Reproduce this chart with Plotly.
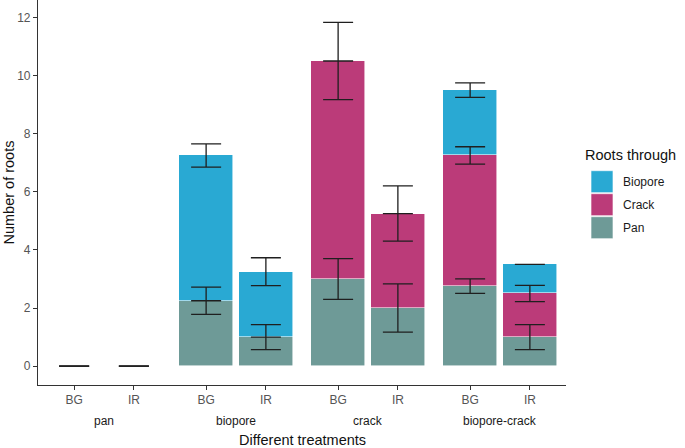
import numpy as np
import plotly.graph_objects as go

# ---------------- data ----------------
treatments = ["pan", "biopore", "crack", "biopore-crack"]
sites = ["BG", "IR"]
# one value per (treatment, site): pan-BG, pan-IR, biopore-BG, biopore-IR, crack-BG, crack-IR, bc-BG, bc-IR
pan_vals = [0, 0, 2.25, 1.0, 3.0, 2.0, 2.75, 1.0]
crack_vals = [0, 0, 0, 0, 7.5, 3.25, 4.5, 1.5]
biopore_vals = [0, 0, 5.0, 2.25, 0, 0, 2.25, 1.0]
pan_err = [0, 0, 0.47, 0.43, 0.7, 0.83, 0.25, 0.43]
crack_err = [0, 0, 0, 0, 1.33, 0.95, 0.3, 0.28]
biopore_err = [0, 0, 0.4, 0.48, 0, 0, 0.25, 0]
y_ticks = [0, 2, 4, 6, 8, 10, 12]

# ---------------- style ----------------
colors = {"Biopore": "#29A9D3", "Crack": "#BB3B79", "Pan": "#6E9A97"}
W_FIG, H_FIG = 685, 448
L, R, T, B = 38, 119, 0, 63
PW, PH = W_FIG - L - R, H_FIG - T - B
DODGE = 0.2264
BAR_W = 0.4075
FONT = "Liberation Sans, Arial, sans-serif"

n = len(treatments) * len(sites)
group_idx = np.repeat(np.arange(len(treatments)), len(sites))
site_off = np.tile(np.array([-DODGE, DODGE]), len(treatments))
xpos = group_idx + site_off
site_labels = [sites[i % len(sites)] for i in range(n)]

layers = [("Pan", pan_vals, pan_err), ("Crack", crack_vals, crack_err), ("Biopore", biopore_vals, biopore_err)]

fig = go.Figure()
for name, vals, _ in layers:
    fig.add_trace(go.Bar(
        x=xpos, y=vals, name=name, width=BAR_W,
        marker=dict(color=colors[name], line=dict(color="rgba(255,255,255,0.7)", width=0.8)),
        showlegend=False, hoverinfo="skip"))

cum = np.zeros(n)
for name, vals, err in layers:
    cum = cum + np.array(vals, dtype=float)
    fig.add_trace(go.Scatter(
        x=xpos, y=cum.copy(), mode="markers",
        marker=dict(size=1, color="rgba(0,0,0,0)"),
        error_y=dict(type="data", array=err, visible=True, color="#1f1f1f", thickness=1.3, width=15),
        showlegend=False, hoverinfo="skip"))


def px2x(px):
    return (px - L) / PW


def py2y(py):
    return (T + PH - py) / PH


annotations = []
for g, t in enumerate(treatments):
    annotations.append(dict(x=g, xref="x", y=0, yref="paper", yanchor="middle", yshift=-36,
                            text=t, showarrow=False, font=dict(family=FONT, size=12, color="#1a1a1a")))
annotations.append(dict(x=0.5 * (len(treatments) - 1), xref="x", y=0, yref="paper", yanchor="middle",
                        yshift=-54.5, text="Different treatments", showarrow=False,
                        font=dict(family=FONT, size=14.5, color="#111")))
annotations.append(dict(x=0, xref="paper", xshift=-30, y=0.5, yref="paper", textangle=-90,
                        text="Number of roots", showarrow=False, xanchor="center", yanchor="middle",
                        font=dict(family=FONT, size=14.5, color="#111")))

# manual legend (ggplot style keys)
annotations.append(dict(x=px2x(583), xref="paper", y=py2y(155), yref="paper", xanchor="left",
                        yanchor="middle", text="Roots through", showarrow=False,
                        font=dict(family=FONT, size=14.5, color="#111")))
shapes = []
legend_order = ["Biopore", "Crack", "Pan"]
for i, name in enumerate(legend_order):
    cy = 181.7 + 23 * i
    shapes.append(dict(type="rect", xref="paper", yref="paper",
                       x0=px2x(591), x1=px2x(613), y0=py2y(cy + 11), y1=py2y(cy - 11),
                       fillcolor=colors[name], line=dict(color="rgba(255,255,255,0.8)", width=0.8)))
    annotations.append(dict(x=px2x(621), xref="paper", y=py2y(cy), yref="paper", xanchor="left",
                            yanchor="middle", text=name, showarrow=False,
                            font=dict(family=FONT, size=12, color="#1a1a1a")))

fig.update_layout(
    width=W_FIG, height=H_FIG,
    margin=dict(l=L, r=R, t=T, b=B, pad=0),
    paper_bgcolor="white", plot_bgcolor="white",
    barmode="stack", bargap=0,
    showlegend=False,
    annotations=annotations, shapes=shapes,
    font=dict(family=FONT),
)
fig.update_xaxes(range=[-0.5, len(treatments) - 0.5], tickvals=xpos, ticktext=site_labels,
                 ticks="outside", ticklen=4, tickcolor="#333", tickwidth=1,
                 showline=True, linecolor="#333", linewidth=1.1, showgrid=False, zeroline=False,
                 tickfont=dict(family=FONT, size=12, color="#555"))
fig.update_yaxes(range=[-0.65, 12.6], tickvals=y_ticks, ticks="outside", ticklen=4, tickcolor="#333",
                 tickwidth=1, showline=True, linecolor="#333", linewidth=1.1, showgrid=False,
                 zeroline=False, tickfont=dict(family=FONT, size=12, color="#555"))

fig.write_html("out.html", config={"displayModeBar": False},
               post_script="document.body.style.margin='0';document.body.style.overflow='hidden';")
